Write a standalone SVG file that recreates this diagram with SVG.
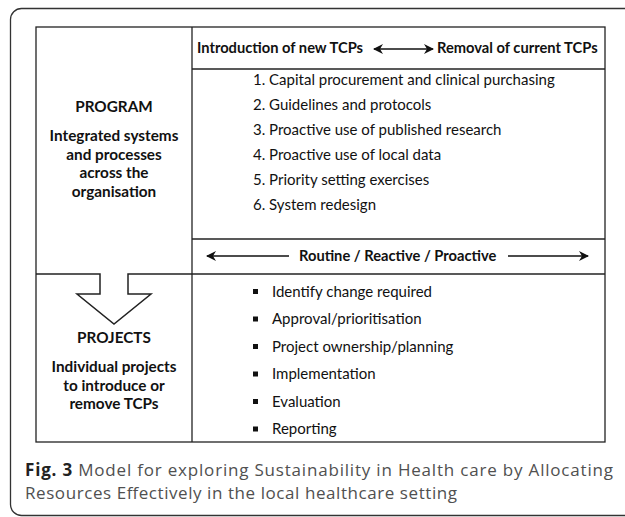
<svg xmlns="http://www.w3.org/2000/svg" width="625" height="517" viewBox="0 0 625 517">
<defs>
<marker id="ah" viewBox="0 0 10 10" refX="9" refY="5" markerWidth="10" markerHeight="10" markerUnits="userSpaceOnUse" orient="auto-start-reverse">
<path d="M0,0 L10,5 L0,10 L3,5 z" fill="#111"/>
</marker>
<style>
.ln{stroke:#222;stroke-width:1.3;fill:none}
.t{font-family:Lato,"Liberation Sans",sans-serif;font-size:15px;fill:#111}
.b{font-weight:bold;font-size:14.7px}
.l{font-size:15.3px}
.c{text-anchor:middle}
.cap{font-family:"Open Sans","Liberation Sans",sans-serif;font-size:17px;fill:#505050}
.arr{stroke:#111;stroke-width:1.3;fill:none}
</style>
</defs>
<rect width="625" height="517" fill="#fff"/>
<rect x="10.5" y="8.5" width="700" height="507" rx="11" fill="none" stroke="#333" stroke-width="1.3"/>

<g id="table">
<rect class="ln" x="36" y="27" width="569" height="415"/>
<line class="ln" x1="192" y1="27" x2="192" y2="442"/>
<line class="ln" x1="192" y1="69" x2="605" y2="69"/>
<line class="ln" x1="192" y1="239" x2="605" y2="239"/>
<line class="ln" x1="192" y1="274" x2="605" y2="274"/>
</g>

<g id="program">
<text class="t b l c" x="114" y="112">PROGRAM</text>
<text class="t b l c" x="114" y="141">Integrated systems</text>
<text class="t b l c" x="114" y="159.5">and processes</text>
<text class="t b l c" x="114" y="178">across the</text>
<text class="t b l c" x="114" y="196.5">organisation</text>
</g>

<g id="header">
<text class="t b" x="197" y="53">Introduction of new TCPs</text>
<text class="t b" x="437" y="53">Removal of current TCPs</text>
</g>

<g id="program-items">
<text class="t" x="253" y="84.5">1.  Capital procurement and clinical purchasing</text>
<text class="t" x="253" y="109.5">2.  Guidelines and protocols</text>
<text class="t" x="253" y="134.5">3.  Proactive use of published research</text>
<text class="t" x="253" y="159.5">4.  Proactive use of local data</text>
<text class="t" x="253" y="184.5">5.  Priority setting exercises</text>
<text class="t" x="253" y="209.5">6.  System redesign</text>
</g>

<g id="routine">
<text class="t b" x="299" y="261">Routine / Reactive / Proactive</text>
</g>

<g id="block-arrow">
<path d="M36,274 L100,274 L100,294 L77,294 L114,324 L151,294 L128,294 L128,274 L192,274" fill="#fff" stroke="#222" stroke-width="1.5" stroke-linejoin="miter"/>
</g>

<g id="projects">
<text class="t b l c" x="114" y="343">PROJECTS</text>
<text class="t b l c" x="114" y="372">Individual projects</text>
<text class="t b l c" x="114" y="390.5">to introduce or</text>
<text class="t b l c" x="114" y="409">remove TCPs</text>
</g>

<g id="project-items">
<rect x="253" y="289" width="5" height="5" fill="#111"/>
<rect x="253" y="316.5" width="5" height="5" fill="#111"/>
<rect x="253" y="344" width="5" height="5" fill="#111"/>
<rect x="253" y="371.5" width="5" height="5" fill="#111"/>
<rect x="253" y="399" width="5" height="5" fill="#111"/>
<rect x="253" y="426.5" width="5" height="5" fill="#111"/>
<text class="t" x="272" y="296.5">Identify change required</text>
<text class="t" x="272" y="324">Approval/prioritisation</text>
<text class="t" x="272" y="351.5">Project ownership/planning</text>
<text class="t" x="272" y="379">Implementation</text>
<text class="t" x="272" y="406.5">Evaluation</text>
<text class="t" x="272" y="434">Reporting</text>
</g>

<g id="connectors">
<line class="arr" x1="374" y1="49" x2="433" y2="49" marker-start="url(#ah)" marker-end="url(#ah)"/>
<line class="arr" x1="289" y1="256" x2="207" y2="256" marker-end="url(#ah)"/>
<line class="arr" x1="508" y1="256" x2="588" y2="256" marker-end="url(#ah)"/>
</g>

<g id="caption">
<text class="cap" x="25" y="476" textLength="588" lengthAdjust="spacing"><tspan font-weight="bold" fill="#222">Fig. 3</tspan> Model for exploring Sustainability in Health care by Allocating</text>
<text class="cap" x="25" y="499" textLength="432" lengthAdjust="spacing">Resources Effectively in the local healthcare setting</text>
</g>
</svg>
